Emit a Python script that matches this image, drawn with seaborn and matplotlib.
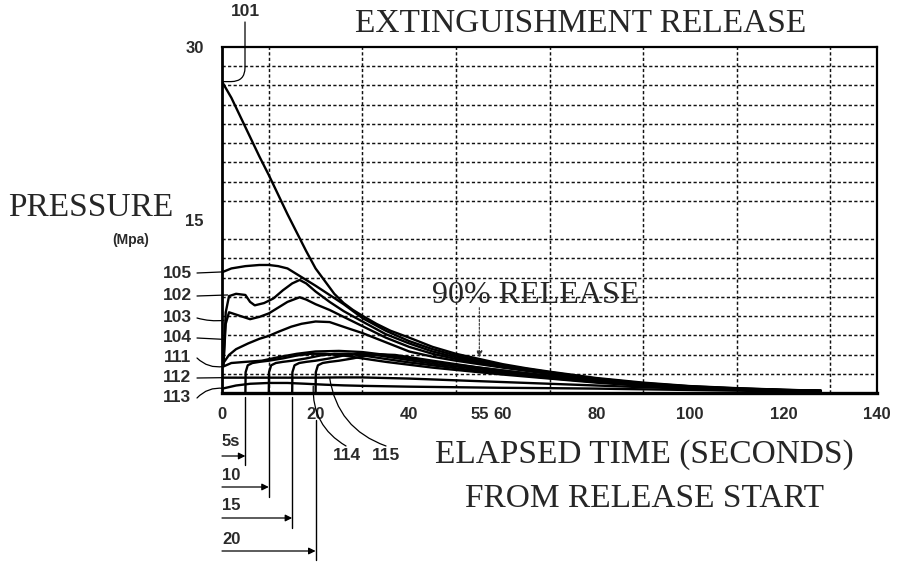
import numpy as np
import pandas as pd
import matplotlib
matplotlib.use("Agg")
import matplotlib.pyplot as plt
import matplotlib.transforms as mtransforms
import seaborn as sns

# ---------------- data ----------------
c101_t = [0, 2, 4, 6, 8, 10, 12, 14, 16, 18, 20, 22, 24, 26, 28, 30, 33, 36, 40, 45, 50, 55, 60, 65, 70, 80, 90, 100, 110, 120, 128]
c101_p = [27.0, 25.6, 23.9, 22.2, 20.5, 18.9, 17.2, 15.5, 13.9, 12.3, 10.8, 9.7, 8.6, 7.8, 7.2, 6.7, 6.0, 5.4, 4.8, 4.0, 3.4, 2.95, 2.5, 2.15, 1.85, 1.3, 0.9, 0.6, 0.42, 0.28, 0.2]

c105_t = [0.2, 2, 5, 8, 10, 12, 14, 16, 18, 20, 23, 26, 30, 35, 40, 45, 50, 55, 60, 70, 80, 90, 100, 110, 120, 128]
c105_p = [10.5, 10.8, 11.0, 11.1, 11.1, 11.0, 10.8, 10.3, 9.8, 9.3, 8.5, 7.7, 6.5, 5.4, 4.5, 3.8, 3.25, 2.8, 2.4, 1.8, 1.25, 0.85, 0.58, 0.4, 0.27, 0.2]

c102_t = [0.3, 0.8, 1.5, 3, 5, 6, 7, 9, 11, 13, 15, 16.6, 18, 20, 23, 26, 30, 35, 40, 45, 50, 55, 60, 70, 80, 90, 100, 110, 120, 128]
c102_p = [2.4, 7.0, 8.4, 8.6, 8.5, 7.9, 7.6, 7.8, 8.2, 8.9, 9.5, 9.8, 9.5, 8.8, 7.9, 7.1, 6.2, 5.1, 4.3, 3.6, 3.1, 2.7, 2.35, 1.75, 1.2, 0.82, 0.55, 0.38, 0.26, 0.19]

c103_t = [0.3, 0.8, 1.5, 3, 4.5, 6, 8, 10, 12, 14, 16.6, 18, 20, 23, 26, 30, 35, 40, 45, 50, 55, 60, 70, 80, 90, 100, 110, 120, 128]
c103_p = [2.4, 6.0, 7.0, 6.8, 6.6, 6.4, 6.6, 6.9, 7.4, 7.9, 8.3, 8.1, 7.7, 7.2, 6.6, 5.8, 4.8, 4.0, 3.4, 2.95, 2.6, 2.25, 1.7, 1.15, 0.8, 0.53, 0.36, 0.25, 0.18]

c104_t = [0.3, 1.5, 3, 5.6, 8, 10, 12, 14.8, 17, 20, 23, 27, 30, 35, 40, 45, 50, 55, 60, 70, 80, 90, 100, 110, 120, 128]
c104_p = [2.6, 3.3, 3.8, 4.3, 4.7, 4.95, 5.3, 5.75, 6.0, 6.2, 6.15, 5.6, 5.2, 4.4, 3.6, 3.15, 2.8, 2.5, 2.2, 1.65, 1.12, 0.77, 0.52, 0.35, 0.24, 0.18]

c111_t = [0.3, 2, 5, 8.5, 12, 16, 20, 25, 30, 35, 40, 45, 50, 55, 60, 70, 80, 90, 100, 110, 120, 128]
c111_p = [2.3, 2.6, 2.7, 2.8, 3.1, 3.4, 3.6, 3.65, 3.55, 3.3, 3.0, 2.7, 2.45, 2.2, 1.95, 1.5, 1.05, 0.72, 0.5, 0.34, 0.23, 0.17]

c112_t = [0.3, 5, 10, 15, 20, 25, 30, 40, 50, 60, 70, 80, 90, 100, 110, 120, 128]
c112_p = [1.33, 1.33, 1.33, 1.33, 1.33, 1.35, 1.35, 1.25, 1.1, 0.95, 0.8, 0.65, 0.5, 0.38, 0.28, 0.2, 0.15]

c113_t = [0.3, 3, 6, 10, 14, 18, 22, 26, 30, 40, 50, 60, 70, 80, 90, 100, 110, 120, 128]
c113_p = [0.4, 0.65, 0.8, 0.87, 0.87, 0.8, 0.72, 0.66, 0.62, 0.55, 0.5, 0.45, 0.42, 0.38, 0.32, 0.26, 0.2, 0.15, 0.12]

# delayed release starts (5 s, 10 s, 15 s, 20 s)
s05_t = [5, 5.05, 5.5, 6.5, 8, 10, 13, 16, 19, 22, 26, 30, 35, 40, 45, 50, 55, 60, 70, 80, 90, 100, 110, 120, 128]
s05_p = [0, 1.8, 2.4, 2.6, 2.7, 2.8, 3.0, 3.25, 3.4, 3.4, 3.25, 3.0, 2.7, 2.45, 2.2, 2.0, 1.8, 1.6, 1.25, 0.9, 0.62, 0.43, 0.3, 0.21, 0.16]
s10_t = [10, 10.05, 10.5, 11.5, 13, 15, 18, 21, 24, 27, 31, 35, 40, 45, 50, 55, 60, 70, 80, 90, 100, 110, 120, 128]
s10_p = [0, 1.8, 2.4, 2.6, 2.7, 2.8, 3.0, 3.25, 3.4, 3.4, 3.2, 2.95, 2.65, 2.4, 2.15, 1.9, 1.7, 1.3, 0.95, 0.65, 0.45, 0.31, 0.22, 0.16]
s15_t = [15, 15.05, 15.5, 16.5, 18, 20, 23, 26, 29, 32, 36, 40, 45, 50, 55, 60, 70, 80, 90, 100, 110, 120, 128]
s15_p = [0, 1.8, 2.4, 2.6, 2.7, 2.8, 3.0, 3.25, 3.4, 3.35, 3.1, 2.85, 2.55, 2.3, 2.05, 1.8, 1.35, 0.98, 0.68, 0.46, 0.32, 0.22, 0.16]
s20_t = [20, 20.05, 20.5, 21.5, 23, 25, 28, 31, 34, 37, 41, 45, 50, 55, 60, 70, 80, 90, 100, 110, 120, 128]
s20_p = [0, 1.8, 2.4, 2.6, 2.7, 2.8, 3.0, 3.25, 3.35, 3.3, 3.05, 2.8, 2.5, 2.2, 1.95, 1.45, 1.02, 0.7, 0.48, 0.33, 0.23, 0.17]

start_delays = [5, 10, 15, 20]
delay_labels = ["5s", "10", "15", "20"]
x_ticks = [0, 20, 40, 55, 60, 80, 100, 120, 140]
y_ticks = [15, 30]
release_90_t = 55
left_labels = ["105", "102", "103", "104", "111", "112", "113"]

series = [
    ("101", c101_t, c101_p), ("105", c105_t, c105_p), ("102", c102_t, c102_p),
    ("103", c103_t, c103_p), ("104", c104_t, c104_p), ("111", c111_t, c111_p),
    ("112", c112_t, c112_p), ("113", c113_t, c113_p),
    ("s05", s05_t, s05_p), ("s10", s10_t, s10_p), ("s15", s15_t, s15_p), ("s20", s20_t, s20_p),
]

# ---------------- figure ----------------
sns.set_theme(style="white")
plt.rcParams["font.family"] = ["Liberation Sans", "DejaVu Sans"]

W, H = 897, 562
fig = plt.figure(figsize=(W / 100, H / 100), dpi=100)
fig.patch.set_facecolor("white")
ax = fig.add_axes([222 / W, 1 - 393 / H, 655 / W, 346 / H])
ax.set_facecolor("white")

df = pd.concat([pd.DataFrame({"t": t, "p": p, "curve": n}) for n, t, p in series], ignore_index=True)
sns.lineplot(data=df, x="t", y="p", units="curve", estimator=None, sort=False,
             color="black", lw=1.7, ax=ax, legend=False)

ax.set_xlim(0, 140)
ax.set_ylim(0, 30)
ax.set_xlabel("")
ax.set_ylabel("")

ax.set_xticks(x_ticks)
ax.set_xticklabels([str(v) for v in x_ticks])
ax.set_yticks(y_ticks)
ax.set_yticklabels([str(v) for v in y_ticks])
ax.set_xticks(np.arange(0, 141, 10), minor=True)
ax.set_yticks(np.linspace(0, 30, 19), minor=True)
ax.grid(False, which="major")
ax.grid(True, which="minor", color="#111111", lw=1.05, linestyle=(0, (2.2, 1.6)))
ax.tick_params(which="both", length=0)
ax.tick_params(axis="x", pad=10, labelsize=12, labelcolor="#2a2a2a")
ax.tick_params(axis="y", pad=13, labelsize=12, labelcolor="#2a2a2a")
for lab in ax.get_xticklabels() + ax.get_yticklabels():
    lab.set_fontweight("bold")

for side, lw in [("left", 2.0), ("bottom", 2.4), ("top", 1.6), ("right", 1.6)]:
    ax.spines[side].set_visible(True)
    ax.spines[side].set_color("black")
    ax.spines[side].set_linewidth(lw)

serif = ["Liberation Serif", "DejaVu Serif"]
fig.text(581 / W, 1 - 32 / H, "EXTINGUISHMENT RELEASE", family=serif, fontsize=24, ha="center", va="baseline")
fig.text(91 / W, 1 - 216 / H, "PRESSURE", family=serif, fontsize=24, ha="center", va="baseline")
fig.text(131 / W, 1 - 240 / H, "(Mpa)", fontsize=10, fontweight="bold", ha="center", va="center", color="#2a2a2a")
fig.text(432 / W, 1 - 303 / H, "90% RELEASE", family=serif, fontsize=23, ha="left", va="baseline")
fig.text(644 / W, 1 - 463 / H, "ELAPSED TIME (SECONDS)", family=serif, fontsize=24, ha="center", va="baseline")
fig.text(644 / W, 1 - 507 / H, "FROM RELEASE START", family=serif, fontsize=24, ha="center", va="baseline")

lbl_kw = dict(fontsize=12.5, fontweight="bold", color="#2a2a2a", ha="center", va="center")
line_kw = dict(arrowstyle="-", color="black", lw=0.9, shrinkA=0, shrinkB=0)

# 101 label + hooked leader
fig.text(245 / W, 1 - 12 / H, "101", **lbl_kw)
ax.annotate("", xy=(c101_t[0] + 0.3, c101_p[0]), xycoords="data", xytext=(245, H - 22),
            textcoords="figure pixels", annotation_clip=False,
            arrowprops=dict(line_kw, connectionstyle="angle,angleA=90,angleB=0,rad=14"))

# left labels with leaders
label_py = [273, 296, 318, 338, 358, 378, 398]
leader_xy = [(0.2, 10.5), (1.2, 8.5), (0.4, 6.3), (0.4, 4.65), (0.3, 2.3), (0.3, 1.33), (0.3, 0.4)]
leader_rad = [0.0, 0.0, 0.1, 0.0, 0.25, 0.0, -0.25]
for name, py, xy, rad in zip(left_labels, label_py, leader_xy, leader_rad):
    fig.text(177 / W, 1 - py / H, name, **lbl_kw)
    ax.annotate("", xy=xy, xycoords="data", xytext=(197, H - py), textcoords="figure pixels",
                annotation_clip=False,
                arrowprops=dict(line_kw, connectionstyle=f"arc3,rad={rad}"))

# 114 / 115 labels and leaders
fig.text(347 / W, 1 - 456 / H, "114", **lbl_kw)
fig.text(386 / W, 1 - 456 / H, "115", **lbl_kw)
ax.annotate("", xy=(19.5, 0.6), xycoords="data", xytext=(346, H - 446), textcoords="figure pixels",
            annotation_clip=False, arrowprops=dict(line_kw, connectionstyle="arc3,rad=-0.3"))
ax.annotate("", xy=(23, 1.34), xycoords="data", xytext=(386, H - 446), textcoords="figure pixels",
            annotation_clip=False, arrowprops=dict(line_kw, connectionstyle="arc3,rad=-0.3"))

# 90% release arrow
ax.annotate("", xy=(release_90_t, 3.1), xytext=(release_90_t, 7.4),
            arrowprops=dict(arrowstyle="-|>", color="#333333", lw=0.8, mutation_scale=9,
                            linestyle=(0, (2, 1.5)), shrinkA=0, shrinkB=0))

# start delay markers below the axis
blend = mtransforms.blended_transform_factory(ax.transData, fig.transFigure)
vtop = [397, 397, 397, 420]
vbot = [465, 497, 528, 560]
arrow_py = [456, 487, 518, 551]
text_py = [441, 475, 506, 539]
for t, lab, a, b, ay, ty in zip(start_delays, delay_labels, vtop, vbot, arrow_py, text_py):
    ax.plot([t, t], [1 - a / H, 1 - b / H], transform=blend, clip_on=False, color="black", lw=1.0)
    ax.annotate("", xy=(t, 1 - ay / H), xycoords=blend, xytext=(0, 1 - ay / H), textcoords=blend,
                annotation_clip=False,
                arrowprops=dict(arrowstyle="-|>", color="black", lw=0.9, mutation_scale=10,
                                shrinkA=0, shrinkB=0))
    ax.text(0, 1 - ty / H, lab, transform=blend, fontsize=12, fontweight="bold",
            color="#2a2a2a", ha="left", va="center", clip_on=False)

fig.savefig("out.png", dpi=100, facecolor="white")
